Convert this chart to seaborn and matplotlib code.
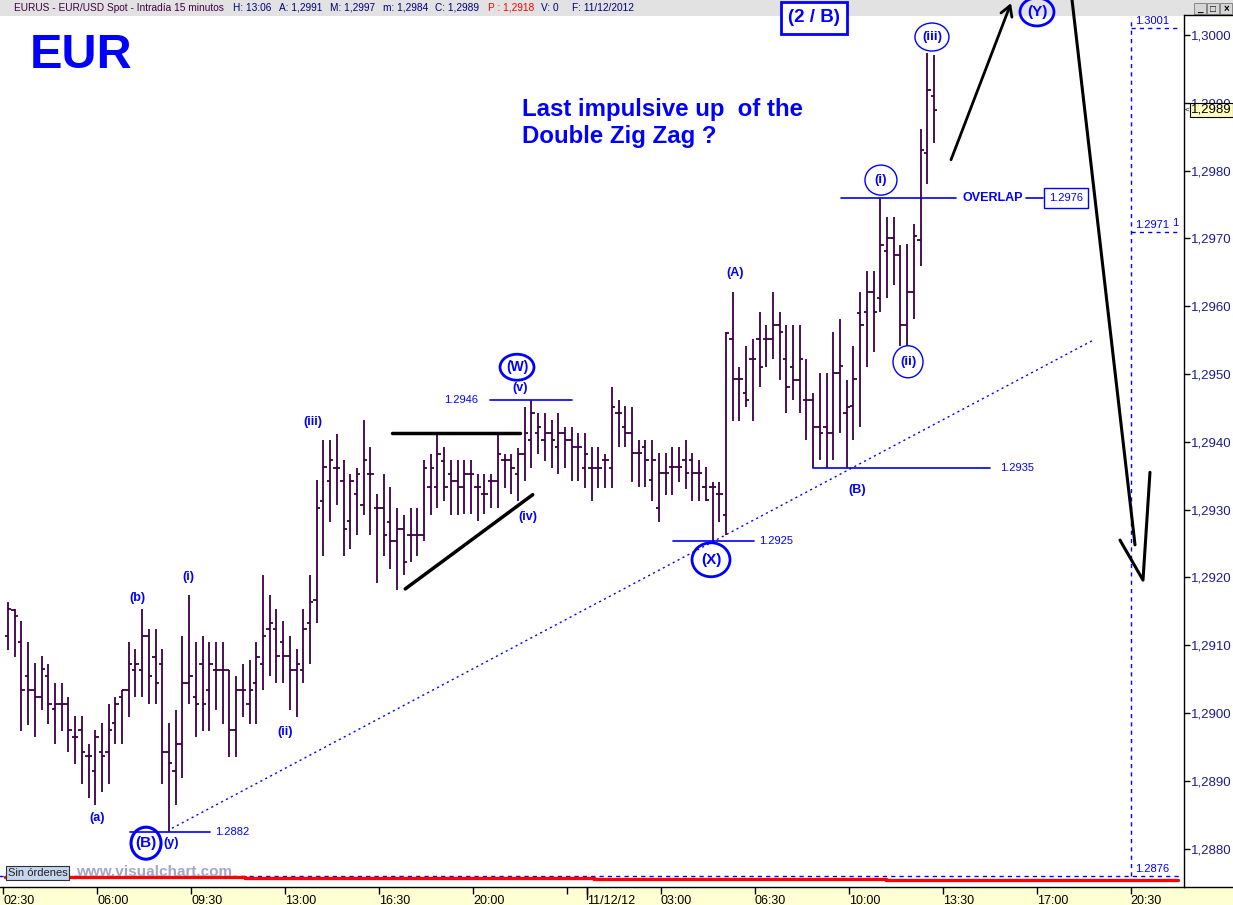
import matplotlib
matplotlib.use("Agg")
import matplotlib.pyplot as plt
from matplotlib.lines import Line2D
from matplotlib.patches import Ellipse, Rectangle
from matplotlib.transforms import blended_transform_factory
import numpy as np
import pandas as pd
import seaborn as sns

# EUR/USD 15 minute bars (10-11 Dec 2012)
opens = [1.29114, 1.29152, 1.29104, 1.29055, 1.29034, 1.29024, 1.29055, 1.29006, 1.29014, 1.29014,
         1.28964, 1.28975, 1.28936, 1.28915, 1.28943, 1.28943, 1.28985, 1.29024, 1.29034, 1.29064,
         1.29064, 1.29114, 1.29083, 1.29073, 1.28943, 1.28915, 1.28955, 1.29044, 1.29024, 1.29073,
         1.29034, 1.29064, 1.29064, 1.29064, 1.28975, 1.29034, 1.29014, 1.29044, 1.29073, 1.29124,
         1.29124, 1.29104, 1.29084, 1.29064, 1.29064, 1.29133, 1.29167, 1.29313, 1.29342, 1.29362,
         1.29342, 1.29283, 1.29323, 1.29307, 1.29353, 1.29302, 1.29302, 1.29282, 1.29253, 1.29272,
         1.29263, 1.29263, 1.29263, 1.29333, 1.29333, 1.29372, 1.29353, 1.29342, 1.29333, 1.29352,
         1.29333, 1.29323, 1.29342, 1.29342, 1.29373, 1.29373, 1.29352, 1.29382, 1.29403, 1.29413,
         1.29403, 1.29413, 1.29393, 1.29413, 1.29403, 1.29393, 1.29362, 1.29362, 1.29362, 1.29373,
         1.29362, 1.29442, 1.29422, 1.29413, 1.29383, 1.29393, 1.29344, 1.29302, 1.29354, 1.29363,
         1.29363, 1.29373, 1.29373, 1.29354, 1.29334, 1.29334, 1.29323, 1.29292, 1.29551, 1.29492,
         1.29472, 1.29522, 1.29551, 1.29551, 1.29551, 1.29572, 1.29522, 1.29511, 1.29491, 1.29462,
         1.29462, 1.29422, 1.29422, 1.29413, 1.29501, 1.29442, 1.29453, 1.29590, 1.29592, 1.29621,
         1.29612, 1.29681, 1.29700, 1.29676, 1.29573, 1.29621, 1.29698, 1.29826, 1.29910]
highs = [1.29164, 1.29154, 1.29135, 1.29104, 1.29074, 1.29084, 1.29073, 1.29044, 1.29044, 1.29024,
         1.28995, 1.28995, 1.28955, 1.28975, 1.28985, 1.29014, 1.29024, 1.29034, 1.29104, 1.29094,
         1.29153, 1.29124, 1.29124, 1.29094, 1.28985, 1.29004, 1.29114, 1.29174, 1.29104, 1.29114,
         1.29104, 1.29104, 1.29104, 1.29064, 1.29054, 1.29073, 1.29078, 1.29104, 1.29204, 1.29174,
         1.29153, 1.29135, 1.29114, 1.29094, 1.29153, 1.29204, 1.29343, 1.29403, 1.29403, 1.29412,
         1.29373, 1.29353, 1.29362, 1.29432, 1.29393, 1.29323, 1.29353, 1.29333, 1.29303, 1.29292,
         1.29303, 1.29303, 1.29373, 1.29382, 1.29412, 1.29392, 1.29373, 1.29373, 1.29373, 1.29373,
         1.29352, 1.29352, 1.29352, 1.29413, 1.29382, 1.29382, 1.29391, 1.29452, 1.29462, 1.29442,
         1.29442, 1.29432, 1.29442, 1.29422, 1.29422, 1.29413, 1.29413, 1.29392, 1.29392, 1.29382,
         1.29481, 1.29462, 1.29453, 1.29452, 1.29403, 1.29403, 1.29403, 1.29383, 1.29383, 1.29393,
         1.29393, 1.29403, 1.29383, 1.29373, 1.29363, 1.29341, 1.29341, 1.29562, 1.29621, 1.29511,
         1.29541, 1.29551, 1.29592, 1.29572, 1.29621, 1.29592, 1.29572, 1.29572, 1.29572, 1.29522,
         1.29472, 1.29501, 1.29501, 1.29562, 1.29581, 1.29491, 1.29541, 1.29621, 1.29652, 1.29652,
         1.29759, 1.29731, 1.29731, 1.29690, 1.29692, 1.29721, 1.29861, 1.29973, 1.29971]
lows = [1.29093, 1.29083, 1.28974, 1.28983, 1.28964, 1.29004, 1.28984, 1.28954, 1.28974, 1.28943,
        1.28925, 1.28895, 1.28874, 1.28864, 1.28884, 1.28895, 1.28954, 1.28954, 1.28994, 1.29023,
        1.29023, 1.29013, 1.29013, 1.28895, 1.28825, 1.28864, 1.28904, 1.29014, 1.28964, 1.28974,
        1.28974, 1.29004, 1.28984, 1.28935, 1.28935, 1.28994, 1.28984, 1.28984, 1.29034, 1.29054,
        1.29044, 1.29044, 1.29004, 1.28994, 1.29044, 1.29073, 1.29133, 1.29232, 1.29282, 1.29307,
        1.29232, 1.29242, 1.29262, 1.29292, 1.29262, 1.29192, 1.29232, 1.29213, 1.29182, 1.29203,
        1.29222, 1.29232, 1.29253, 1.29292, 1.29302, 1.29313, 1.29292, 1.29292, 1.29293, 1.29293,
        1.29283, 1.29293, 1.29303, 1.29303, 1.29332, 1.29323, 1.29313, 1.29342, 1.29362, 1.29382,
        1.29372, 1.29362, 1.29352, 1.29362, 1.29342, 1.29342, 1.29332, 1.29313, 1.29332, 1.29332,
        1.29332, 1.29392, 1.29392, 1.29341, 1.29333, 1.29333, 1.29312, 1.29282, 1.29322, 1.29322,
        1.29341, 1.29331, 1.29312, 1.29312, 1.29312, 1.29253, 1.29282, 1.29263, 1.29431, 1.29431,
        1.29451, 1.29431, 1.29481, 1.29511, 1.29522, 1.29491, 1.29442, 1.29462, 1.29442, 1.29403,
        1.29362, 1.29373, 1.29362, 1.29373, 1.29413, 1.29362, 1.29402, 1.29422, 1.29511, 1.29532,
        1.29591, 1.29612, 1.29631, 1.29542, 1.29541, 1.29581, 1.29660, 1.29780, 1.29840]
closes = [1.29153, 1.29143, 1.29034, 1.29034, 1.29024, 1.29065, 1.29014, 1.29014, 1.29014, 1.28975,
          1.28964, 1.28943, 1.28936, 1.28965, 1.28936, 1.28975, 1.29014, 1.29034, 1.29073, 1.29073,
          1.29114, 1.29055, 1.29044, 1.28943, 1.28926, 1.28955, 1.29044, 1.29055, 1.29014, 1.29014,
          1.29073, 1.29064, 1.29064, 1.28975, 1.29034, 1.29034, 1.29034, 1.29083, 1.29114, 1.29133,
          1.29084, 1.29084, 1.29064, 1.29073, 1.29124, 1.29164, 1.29302, 1.29363, 1.29373, 1.29362,
          1.29272, 1.29342, 1.29353, 1.29373, 1.29353, 1.29302, 1.29263, 1.29253, 1.29272, 1.29222,
          1.29263, 1.29263, 1.29362, 1.29362, 1.29382, 1.29333, 1.29342, 1.29333, 1.29352, 1.29352,
          1.29333, 1.29323, 1.29342, 1.29382, 1.29373, 1.29362, 1.29382, 1.29413, 1.29442, 1.29422,
          1.29413, 1.29403, 1.29413, 1.29403, 1.29393, 1.29393, 1.29382, 1.29362, 1.29362, 1.29373,
          1.29452, 1.29442, 1.29413, 1.29383, 1.29383, 1.29373, 1.29373, 1.29354, 1.29354, 1.29363,
          1.29363, 1.29354, 1.29354, 1.29354, 1.29314, 1.29334, 1.29323, 1.29561, 1.29492, 1.29492,
          1.29462, 1.29522, 1.29511, 1.29551, 1.29572, 1.29562, 1.29481, 1.29491, 1.29522, 1.29462,
          1.29422, 1.29413, 1.29413, 1.29501, 1.29512, 1.29452, 1.29492, 1.29572, 1.29621, 1.29592,
          1.29691, 1.29700, 1.29676, 1.29573, 1.29621, 1.29703, 1.29830, 1.29919, 1.29890]

# time axis: bar index of each labelled tick
tick_bars = [0, 14, 28, 42, 56, 70, 84, 87, 98, 112, 126, 140, 154, 168]
tick_labels = ["02:30", "06:00", "09:30", "13:00", "16:30", "20:00", "", "11/12/12",
               "03:00", "06:30", "10:00", "13:30", "17:00", "20:30"]
price_ticks = [1.2880, 1.2890, 1.2900, 1.2910, 1.2920, 1.2930, 1.2940,
               1.2950, 1.2960, 1.2970, 1.2980, 1.2990, 1.3000]
last_price = 1.2989

# projection levels on the right
proj_bar = 168
proj_top = 1.3001
proj_mid = 1.2971
proj_low = 1.2876

# red equity line at the bottom
red_x = [-0.5, 35.3, 44.0, 87.3, 130.8, 174.4]
red_y = [1.28758, 1.28757, 1.28756, 1.28755, 1.28754, 1.28754]

header = [("EURUS - EUR/USD Spot - Intradía 15 minutos", 14, "#400040"),
          ("H: 13:06", 233, "#000080"), ("A: 1,2991", 279, "#000080"),
          ("M: 1,2997", 330, "#000080"), ("m: 1,2984", 383, "#000080"),
          ("C: 1,2989", 435, "#000080"), ("P : 1,2918", 488, "#ff0000"),
          ("V: 0", 541, "#000080"), ("F: 11/12/2012", 572, "#000080")]

BLUE = "#0000ff"
BAR = "#3c0046"
W, H = 1233, 905
PX_BAR = 6.71       # screen pixels per bar
PX_PRICE = 67800.0  # screen pixels per 1.0 of price


def fx(x):
    return x / W


def fy(y):
    return 1 - y / H


df = pd.DataFrame({"open": opens, "high": highs, "low": lows, "close": closes})
df["bar"] = np.arange(len(df))

sns.set_theme(style="white")
plt.rcParams["font.family"] = ["Liberation Sans", "DejaVu Sans"]

fig = plt.figure(figsize=(W / 100, H / 100), dpi=100)
fig.patch.set_facecolor("white")

# header strip and bottom time strip
fig.add_artist(Rectangle((0, fy(16)), 1, 16 / H, transform=fig.transFigure,
                         fc="#e2e2e2", ec="none", zorder=0))
fig.add_artist(Rectangle((0, 0), 1, 18 / H, transform=fig.transFigure,
                         fc="#ffffd4", ec="none", zorder=0))

ax = fig.add_axes([0, 18 / H, 1184 / W, 887 / H])
ax.set_facecolor("none")
ax.set_xlim(-8 / PX_BAR, (1184 - 8) / PX_BAR)
ax.set_ylim(1.3 - 852 / PX_PRICE, 1.3 + 35 / PX_PRICE)

# OHLC bars
ax.vlines(df["bar"], df["low"], df["high"], color=BAR, lw=1.3, zorder=3)
ax.hlines(df["open"], df["bar"] - 0.5, df["bar"], color=BAR, lw=1.3, zorder=3)
ax.hlines(df["close"], df["bar"], df["bar"] + 0.5, color=BAR, lw=1.3, zorder=3)

# red line near the bottom
sns.lineplot(x=red_x, y=red_y, color="red", lw=2.4, drawstyle="steps-post",
             estimator=None, sort=False, ax=ax, zorder=4)

# projection grid (dashed blue)
px_proj = proj_bar - 0.7
right_end = (1180 - 8) / PX_BAR
dash = (0, (3, 3))
ax.plot([px_proj, px_proj], [proj_low, 1.3 + 17 / PX_PRICE], color=BLUE, lw=1, ls=dash, zorder=2)
ax.plot([px_proj, right_end], [proj_top, proj_top], color=BLUE, lw=1, ls=dash, zorder=2)
ax.plot([px_proj, right_end], [proj_mid, proj_mid], color=BLUE, lw=1, ls=dash, zorder=2)
ax.plot([-2, right_end], [proj_low, proj_low], color=BLUE, lw=1, ls=dash, zorder=2)
for lvl in (proj_top, proj_mid, proj_low):
    ax.text(px_proj + 0.6, lvl + 2 / PX_PRICE, f"{lvl:.4f}", color=BLUE, fontsize=8,
            ha="left", va="bottom", zorder=5)
ax.text(right_end - 0.3, proj_mid + 4 / PX_PRICE, "1", color=BLUE, fontsize=8,
        ha="right", va="bottom", zorder=5)

# dotted trend line
ax.plot([24.44, 161.55], [1.28830, 1.29549], color=BLUE, lw=1.0, ls=(0, (1.5, 2.5)), zorder=2)

# triangle
ax.plot([57.2, 76.3], [highs[73], highs[73]], color="black", lw=2.5, zorder=4)
ax.plot([59.2, 78.2], [1.29183, 1.29322], color="black", lw=2.5, zorder=4)


def level(x0, x1, y, label, lx, ha="left"):
    ax.plot([x0, x1], [y, y], color=BLUE, lw=1.2, zorder=4)
    ax.text(lx, y, label, color=BLUE, fontsize=8, ha=ha, va="center", zorder=5)


level(18.2, 30.1, lows[24], "1.2882", 30.85)
level(71.8, 84.05, highs[78], "1.2946", 70.0, ha="right")
level(99.1, 111.2, lows[105], "1.2925", 111.9)
level(120.0, 146.35, lows[125], "1.2935", 147.8)

# overlap line and boxed level
ax.plot([124.1, 141.3], [highs[130], highs[130]], color=BLUE, lw=1.2, zorder=4)
ax.text(142.2, highs[130], "OVERLAP", color=BLUE, fontsize=9, fontweight="bold",
        ha="left", va="center", zorder=5)
ax.plot([151.7, 154.3], [highs[130], highs[130]], color=BLUE, lw=1.2, zorder=4)
ax.text(157.7, highs[130], "1.2976", color=BLUE, fontsize=8, ha="center", va="center", zorder=5,
        bbox=dict(boxstyle="square,pad=0.45", fc="white", ec=BLUE, lw=1))


def wave(x, y, text, size=9):
    ax.text(x, y, text, color=BLUE, fontsize=size, fontweight="bold",
            ha="center", va="center", zorder=8, clip_on=False)


def circled(x, y, text, w, h, size=9.5, lw=1.0):
    ax.add_patch(Ellipse((x, y), w / PX_BAR, h / PX_PRICE, fill=False, ec=BLUE, lw=lw,
                         zorder=7, clip_on=False))
    wave(x, y, text, size)


wave(13.26, 1.28845, "(a)")
wave(19.22, 1.29170, "(b)")
wave(26.83, 1.29201, "(i)")
wave(41.28, 1.28972, "(ii)")
wave(45.45, 1.29429, "(iii)")
wave(77.5, 1.29289, "(iv)")
wave(76.3, 1.29479, "(v)")
wave(108.35, 1.29649, "(A)")
wave(126.53, 1.29329, "(B)")
wave(24.29, 1.28808, "(y)")

circled(20.57, 1.28808, "(B)", 30, 32, size=11, lw=2.2)
circled(75.86, 1.29510, "(W)", 34, 26, size=10, lw=2.0)
circled(104.77, 1.29226, "(X)", 38, 34, size=11, lw=2.0)
circled(130.1, 1.29786, "(i)", 32, 30)
circled(134.13, 1.29518, "(ii)", 30, 32)
circled(137.7, 1.29997, "(iii)", 34, 28)
circled(153.35, 1.30034, "(Y)", 34, 28, size=11, lw=2.0)

# projected path arrows
ax.annotate("", xy=(149.48, 1.30047), xytext=(140.54, 1.29816),
            arrowprops=dict(arrowstyle="->,head_length=0.6,head_width=0.35", lw=2,
                            color="black", shrinkA=0, shrinkB=0),
            annotation_clip=False, zorder=6)
ax.plot([158.57, 167.96], [1.30052, 1.29248], color="black", lw=2.2, zorder=6, clip_on=False)
ax.plot([165.72, 169.15, 170.19], [1.29255, 1.29196, 1.29355], color="black", lw=2.2, zorder=6)

# axes cosmetics
for side in ("left", "top"):
    ax.spines[side].set_visible(False)
ax.spines["right"].set_color("black")
ax.spines["bottom"].set_color("black")
ax.spines["right"].set_linewidth(1)
ax.spines["bottom"].set_linewidth(1)
ax.spines["right"].set_bounds(ax.get_ylim()[0], 1.3 + 20 / PX_PRICE)

ax.yaxis.tick_right()
ax.set_yticks(price_ticks)
ax.set_yticklabels([f"{p:.4f}".replace(".", ",") for p in price_ticks])
ax.tick_params(axis="y", right=True, direction="out", length=4, width=1, pad=1,
               labelsize=9.5, labelcolor="#1c1c8c", color="black")

ax.set_xticks([b - 0.7 for b in tick_bars])
ax.set_xticklabels(tick_labels)
for lab in ax.get_xticklabels():
    lab.set_horizontalalignment("left")
ax.tick_params(axis="x", bottom=True, direction="out", length=5, width=1, pad=1,
               labelsize=9, labelcolor="black", color="black")
tr_x = blended_transform_factory(ax.transData, ax.transAxes)
ax.add_line(Line2D([86.3, 86.3], [0, -12 / 887], transform=tr_x, color="black", lw=1,
                   clip_on=False))
ax.grid(False)

# last price box on the price scale (it sits over the 1,2990 label, as in the original)
tr_y = blended_transform_factory(ax.transAxes, ax.transData)
ax.text(1 + 7 / 1184, last_price, f"{last_price:.4f}".replace(".", ","), transform=tr_y,
        ha="left", va="center", fontsize=9.5, color="black", zorder=10, clip_on=False,
        bbox=dict(boxstyle="square,pad=0.08", fc="#ffffc0", ec="black", lw=0.8))
ax.text(1 + 1 / 1184, last_price, "<", transform=tr_y, ha="left", va="center",
        fontsize=6, color="black", zorder=10, clip_on=False)

# figure-level chrome
fig.add_artist(Line2D([fx(1184), 1], [fy(887), fy(887)], color="black", lw=1))
fig.add_artist(Line2D([fx(1184), 1], [fy(15), fy(15)], color="black", lw=1))
for text, x0, col in header:
    fig.text(fx(x0), fy(8), text, color=col, fontsize=7.3, ha="left", va="center")
for i, glyph in enumerate(["_", "\u25a1", "\u00d7"]):
    x0 = 1194 + 13 * i
    fig.add_artist(Rectangle((fx(x0), fy(14)), 12 / W, 11 / H, transform=fig.transFigure,
                             fc="#d6d6d6", ec="#7a7a7a", lw=0.6, zorder=1))
    fig.text(fx(x0 + 6), fy(8.5), glyph, fontsize=7, fontweight="bold", ha="center",
             va="center", color="black")

fig.text(fx(30), fy(33), "EUR", color=BLUE, fontsize=35, fontweight="bold",
         ha="left", va="top")
fig.text(fx(522), fy(98), "Last impulsive up  of the\nDouble Zig Zag ?", color=BLUE,
         fontsize=17.3, fontweight="bold", ha="left", va="top", linespacing=1.2)
fig.text(fx(814), fy(18), "(2 / B)", color=BLUE, fontsize=13.5, fontweight="bold",
         ha="center", va="center",
         bbox=dict(boxstyle="square,pad=0.4", fc="white", ec=BLUE, lw=2))
fig.text(fx(8), fy(873), "Sin órdenes", color="#202020", fontsize=8, ha="left", va="center",
         bbox=dict(boxstyle="square,pad=0.15", fc="#c6d6ee", ec="#303030", lw=0.8))
fig.text(fx(76), fy(872), "www.visualchart.com", color="#a4a4c8", fontsize=11,
         fontweight="bold", ha="left", va="center")

fig.savefig("out.png", dpi=100)
